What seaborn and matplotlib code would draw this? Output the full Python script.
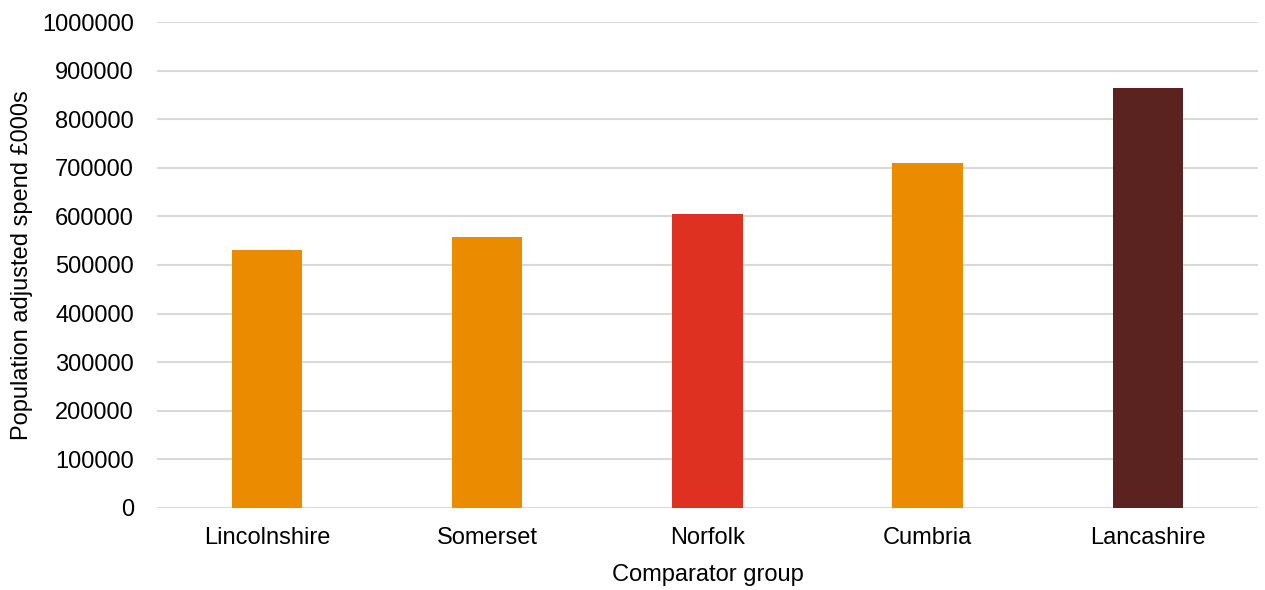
import matplotlib
matplotlib.use("Agg")
import matplotlib.pyplot as plt
import seaborn as sns
import pandas as pd

# values
groups = ["Lincolnshire", "Somerset", "Norfolk", "Cumbria", "Lancashire"]
spend = [531000, 557000, 605000, 710000, 865000]
colours = ["#EA8B00", "#EA8B00", "#DE3121", "#EA8B00", "#5B2320"]
yticks = list(range(0, 1000001, 100000))

df = pd.DataFrame({"group": groups, "spend": spend})

sns.set_theme(style="white")
plt.rcParams["font.family"] = ["Liberation Sans", "DejaVu Sans"]

fig = plt.figure(figsize=(12.65, 5.9), dpi=100)
ax = fig.add_axes([0.124, 0.139, 0.8705, 0.8237])

sns.barplot(data=df, x="group", y="spend", hue="group", palette=colours,
            width=0.32, legend=False, saturation=1, linewidth=0,
            ax=ax, zorder=3)

ax.set_ylim(0, 1000000)
ax.set_xlim(-0.5, len(groups) - 0.5)
ax.set_yticks(yticks)
ax.set_yticklabels([str(v) for v in yticks])
ax.yaxis.grid(True, color="#D9D9D9", linewidth=1.5, zorder=0)
ax.set_axisbelow(True)
for s in ax.spines.values():
    s.set_visible(False)
ax.tick_params(axis="both", length=0, labelsize=17, colors="#000000")
ax.tick_params(axis="y", pad=16.5)
ax.tick_params(axis="x", pad=13.5)

ax.set_xlabel("Comparator group", fontsize=17, labelpad=11, color="#000000")
ax.set_ylabel("Population adjusted spend £000s", fontsize=17, labelpad=6.5,
              color="#000000")

fig.savefig("out.png", dpi=100)
